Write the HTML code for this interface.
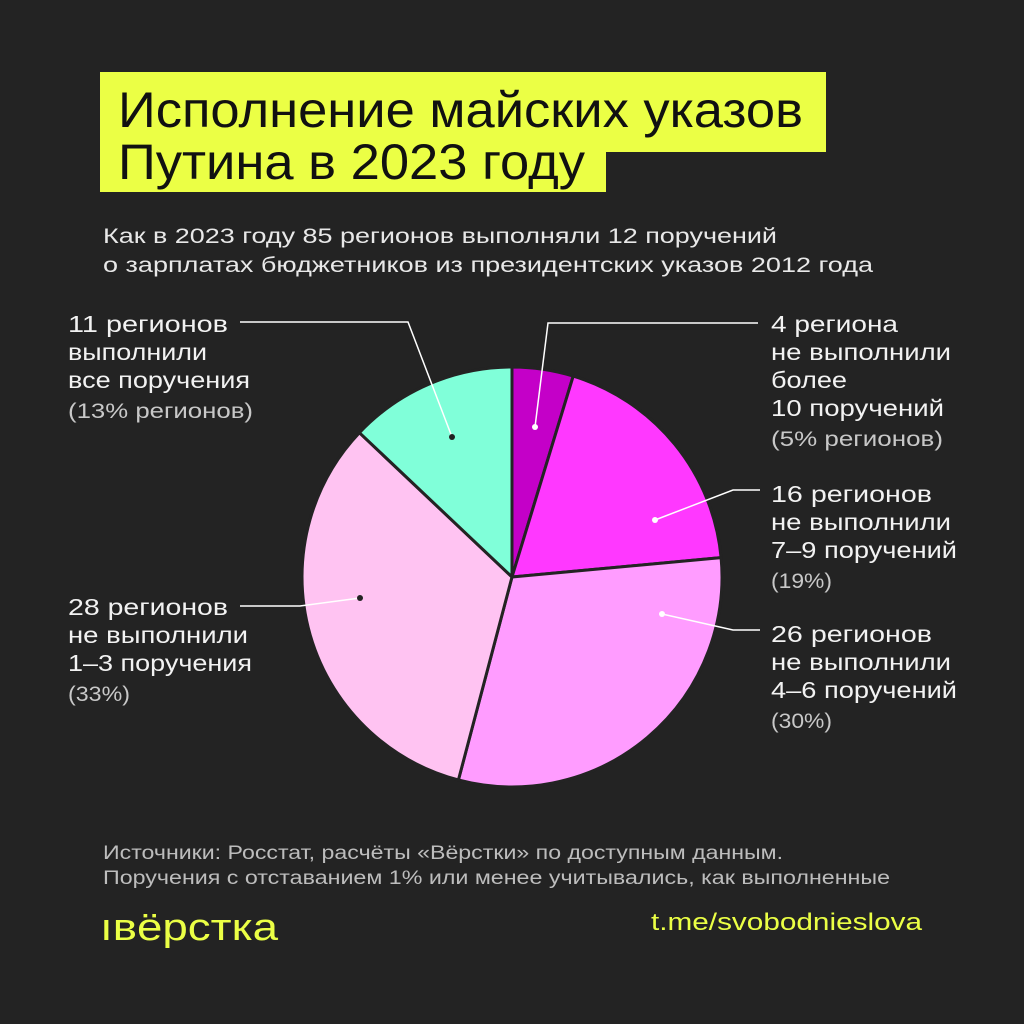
<!DOCTYPE html>
<html><head><meta charset="utf-8"><style>
html,body{margin:0;padding:0;background:#232323;}
svg{display:block;font-family:"Liberation Sans","DejaVu Sans",sans-serif;}
</style></head><body>
<svg width="1024" height="1024" viewBox="0 0 1024 1024">
<rect width="1024" height="1024" fill="#232323"/>
<rect x="100" y="72" width="726" height="80" fill="#ebff45"/>
<rect x="100" y="150" width="506" height="42" fill="#ebff45"/>
<g font-size="50" fill="#111" lengthAdjust="spacingAndGlyphs">
<text x="118" y="127" textLength="685" lengthAdjust="spacingAndGlyphs">Исполнение майских указов</text>
<text x="118" y="179" textLength="467" lengthAdjust="spacingAndGlyphs">Путина в 2023 году</text>
</g>
<g font-size="21" fill="#e8e8e8">
<text x="103" y="243" textLength="674" lengthAdjust="spacingAndGlyphs">Как в 2023 году 85 регионов выполняли 12 поручений</text>
<text x="103" y="272" textLength="770" lengthAdjust="spacingAndGlyphs">о зарплатах бюджетников из президентских указов 2012 года</text>
</g>
<g stroke="#232323" stroke-width="3" stroke-linejoin="round">
<path d="M512,577 L512,367 A210,210 0 0 1 573.2,376.1 Z" fill="#c400c8"/>
<path d="M512,577 L573.2,376.1 A210,210 0 0 1 721.1,557.6 Z" fill="#ff38ff"/>
<path d="M512,577 L721.1,557.6 A210,210 0 0 1 458.4,780 Z" fill="#ff9cff"/>
<path d="M512,577 L458.4,780 A210,210 0 0 1 359.4,432.7 Z" fill="#ffc3f2"/>
<path d="M512,577 L359.4,432.7 A210,210 0 0 1 512,367 Z" fill="#80ffd9"/>
</g>
<g stroke="#fff" stroke-width="1.5" fill="none">
<polyline points="240,322 408,322 452,437"/>
<polyline points="535,427 548,323 758,323"/>
<polyline points="655,520 733,490 760,490"/>
<polyline points="662,614 733,630 760,630"/>
<polyline points="360,598 300,606 240,606"/>
</g>
<g fill="#222"><circle cx="452" cy="437" r="3"/><circle cx="360" cy="598" r="3"/></g>
<g fill="#fff"><circle cx="535" cy="427" r="3"/><circle cx="655" cy="520" r="3"/><circle cx="662" cy="614" r="3"/></g>
<g font-size="23" fill="#f2f2f2">
<text x="68" y="332" textLength="160" lengthAdjust="spacingAndGlyphs">11 регионов</text>
<text x="68" y="360" textLength="139" lengthAdjust="spacingAndGlyphs">выполнили</text>
<text x="68" y="388" textLength="182" lengthAdjust="spacingAndGlyphs">все поручения</text>
<text x="771" y="332" textLength="127" lengthAdjust="spacingAndGlyphs">4 региона</text>
<text x="771" y="360" textLength="180" lengthAdjust="spacingAndGlyphs">не выполнили</text>
<text x="771" y="388" textLength="76" lengthAdjust="spacingAndGlyphs">более</text>
<text x="771" y="416" textLength="173" lengthAdjust="spacingAndGlyphs">10 поручений</text>
<text x="771" y="502" textLength="161" lengthAdjust="spacingAndGlyphs">16 регионов</text>
<text x="771" y="530" textLength="180" lengthAdjust="spacingAndGlyphs">не выполнили</text>
<text x="771" y="558" textLength="186" lengthAdjust="spacingAndGlyphs">7–9 поручений</text>
<text x="771" y="642" textLength="161" lengthAdjust="spacingAndGlyphs">26 регионов</text>
<text x="771" y="670" textLength="180" lengthAdjust="spacingAndGlyphs">не выполнили</text>
<text x="771" y="698" textLength="186" lengthAdjust="spacingAndGlyphs">4–6 поручений</text>
<text x="68" y="615" textLength="160" lengthAdjust="spacingAndGlyphs">28 регионов</text>
<text x="68" y="643" textLength="180" lengthAdjust="spacingAndGlyphs">не выполнили</text>
<text x="68" y="671" textLength="184" lengthAdjust="spacingAndGlyphs">1–3 поручения</text>
</g>
<g font-size="21" fill="#c8c8c8">
<text x="68" y="418" textLength="185" lengthAdjust="spacingAndGlyphs">(13% регионов)</text>
<text x="771" y="446" textLength="172" lengthAdjust="spacingAndGlyphs">(5% регионов)</text>
<text x="771" y="588" textLength="61" lengthAdjust="spacingAndGlyphs">(19%)</text>
<text x="771" y="728" textLength="61" lengthAdjust="spacingAndGlyphs">(30%)</text>
<text x="68" y="701" textLength="62" lengthAdjust="spacingAndGlyphs">(33%)</text>
</g>
<g font-size="19" fill="#bdbdbd">
<text x="103" y="859" textLength="680" lengthAdjust="spacingAndGlyphs">Источники: Росстат, расчёты «Вёрстки» по доступным данным.</text>
<text x="103" y="884" textLength="787" lengthAdjust="spacingAndGlyphs">Поручения с отставанием 1% или менее учитывались, как выполненные</text>
</g>
<text x="100" y="940" font-size="38" fill="#ebff45" textLength="178" lengthAdjust="spacingAndGlyphs">ıвёрстка</text>
<text x="651" y="930" font-size="24" fill="#ebff45" textLength="271" lengthAdjust="spacingAndGlyphs">t.me/svobodnieslova</text>
</svg>
</body></html>
